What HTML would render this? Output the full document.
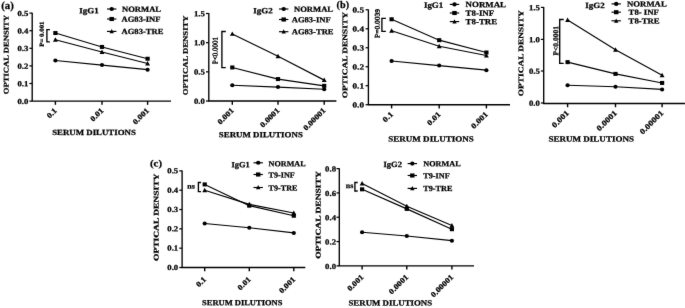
<!DOCTYPE html>
<html><head><meta charset="utf-8"><title>Figure</title>
<style>
html,body{margin:0;padding:0;background:#fff;}
body{width:685px;height:308px;overflow:hidden;}
svg{display:block;}
svg text{font-family:"Liberation Serif", serif;font-weight:bold;fill:#000;stroke:#000;stroke-width:0.25;}
</style></head><body>
<svg width="685" height="308" viewBox="0 0 685 308">
<defs><filter id="bl" x="0" y="0" width="685" height="308" filterUnits="userSpaceOnUse"><feConvolveMatrix order="3" kernelMatrix="0.00490 0.06020 0.00490 0.06020 0.73960 0.06020 0.00490 0.06020 0.00490" divisor="1" edgeMode="none" preserveAlpha="false"/></filter></defs>
<rect width="685" height="308" fill="#fff"/>
<g filter="url(#bl)" fill="#000">
<g id="c1"><path d="M32.20 12.70V101.10H171.00" fill="none" stroke="#000" stroke-width="1.35"/>
<path d="M29.40 101.10H32.20" stroke="#000" stroke-width="1.25"/>
<text transform="translate(28.30 103.89) rotate(0.03) scale(1.120 1)" text-anchor="end" font-size="7.8">0.0</text>
<path d="M29.40 83.50H32.20" stroke="#000" stroke-width="1.25"/>
<text transform="translate(28.30 86.29) rotate(0.03) scale(1.120 1)" text-anchor="end" font-size="7.8">0.1</text>
<path d="M29.40 65.90H32.20" stroke="#000" stroke-width="1.25"/>
<text transform="translate(28.30 68.69) rotate(0.03) scale(1.120 1)" text-anchor="end" font-size="7.8">0.2</text>
<path d="M29.40 48.30H32.20" stroke="#000" stroke-width="1.25"/>
<text transform="translate(28.30 51.09) rotate(0.03) scale(1.120 1)" text-anchor="end" font-size="7.8">0.3</text>
<path d="M29.40 30.70H32.20" stroke="#000" stroke-width="1.25"/>
<text transform="translate(28.30 33.49) rotate(0.03) scale(1.120 1)" text-anchor="end" font-size="7.8">0.4</text>
<path d="M29.40 13.10H32.20" stroke="#000" stroke-width="1.25"/>
<text transform="translate(28.30 15.89) rotate(0.03) scale(1.120 1)" text-anchor="end" font-size="7.8">0.5</text>
<path d="M55.40 101.10V104.80" stroke="#000" stroke-width="1.4"/>
<text transform="translate(57.40 111.10) rotate(-45) scale(1.120 1)" text-anchor="end" font-size="7.8">0.1</text>
<path d="M102.00 101.10V104.80" stroke="#000" stroke-width="1.4"/>
<text transform="translate(104.00 111.10) rotate(-45) scale(1.120 1)" text-anchor="end" font-size="7.8">0.01</text>
<path d="M147.60 101.10V104.80" stroke="#000" stroke-width="1.4"/>
<text transform="translate(149.60 111.10) rotate(-45) scale(1.120 1)" text-anchor="end" font-size="7.8">0.001</text>
<polyline points="55.40,60.50 102.00,65.07 147.60,69.65" fill="none" stroke="#000" stroke-width="1.15"/>
<ellipse cx="55.40" cy="60.50" rx="2.10" ry="2.00"/>
<ellipse cx="102.00" cy="65.07" rx="2.10" ry="2.00"/>
<ellipse cx="147.60" cy="69.65" rx="2.10" ry="2.00"/>
<polyline points="55.40,33.04 102.00,46.94 147.60,58.74" fill="none" stroke="#000" stroke-width="1.15"/>
<rect x="53.30" y="31.04" width="4.20" height="4.00"/>
<rect x="99.90" y="44.94" width="4.20" height="4.00"/>
<rect x="145.50" y="56.74" width="4.20" height="4.00"/>
<polyline points="55.40,39.73 102.00,52.05 147.60,63.49" fill="none" stroke="#000" stroke-width="1.15"/>
<path d="M55.40 37.23L57.81 41.68L52.98 41.68Z"/>
<path d="M102.00 49.55L104.42 54.00L99.58 54.00Z"/>
<path d="M147.60 60.99L150.01 65.44L145.19 65.44Z"/>
<text transform="translate(89.00 13.20) rotate(0.03) scale(1.120 1)" text-anchor="middle" font-size="8.0">IgG1</text>
<path d="M107.00 9.00H116.40" stroke="#000" stroke-width="1.15"/>
<ellipse cx="111.70" cy="9.00" rx="2.21" ry="2.05"/>
<text transform="translate(122.00 11.65) rotate(0.03) scale(1.100 1)" text-anchor="start" font-size="7.8">NORMAL</text>
<path d="M107.00 19.00H116.40" stroke="#000" stroke-width="1.15"/>
<rect x="109.49" y="16.95" width="4.43" height="4.10"/>
<text transform="translate(121.50 21.65) rotate(0.03) scale(1.100 1)" text-anchor="start" font-size="7.8">AG83-INF</text>
<path d="M107.00 31.40H116.40" stroke="#000" stroke-width="1.15"/>
<path d="M111.70 29.02L113.89 33.25L109.52 33.25Z"/>
<text transform="translate(121.50 34.05) rotate(0.03) scale(1.100 1)" text-anchor="start" font-size="7.8">AG83-TRE</text>
<text transform="translate(8.55 54.60) rotate(-89.97) scale(1.000 1)" text-anchor="middle" font-size="7.1" textLength="79.2" lengthAdjust="spacingAndGlyphs">OPTICAL DENSITY</text>
<text transform="translate(94.00 135.09) rotate(0.03) scale(1.120 1)" text-anchor="middle" font-size="7.9">SERUM DILUTIONS</text>
<path d="M49.90 29.60H46.90V41.90H49.90" fill="none" stroke="#000" stroke-width="1.35"/>
<text transform="translate(43.75 34.10) rotate(-89.97) scale(1.000 1)" text-anchor="middle" font-size="6.2" textLength="25.3" lengthAdjust="spacingAndGlyphs">P= 0.001</text>
<text transform="translate(1.20 8.90) rotate(0.03) scale(1.000 1)" text-anchor="start" font-size="10.8">(a)</text></g>
<g id="c2"><path d="M208.80 13.10V101.00H336.40" fill="none" stroke="#000" stroke-width="1.35"/>
<path d="M206.00 101.00H208.80" stroke="#000" stroke-width="1.25"/>
<text transform="translate(204.90 103.69) rotate(0.03) scale(1.120 1)" text-anchor="end" font-size="7.8">0.0</text>
<path d="M206.00 71.83H208.80" stroke="#000" stroke-width="1.25"/>
<text transform="translate(204.90 74.52) rotate(0.03) scale(1.120 1)" text-anchor="end" font-size="7.8">0.5</text>
<path d="M206.00 42.67H208.80" stroke="#000" stroke-width="1.25"/>
<text transform="translate(204.90 45.36) rotate(0.03) scale(1.120 1)" text-anchor="end" font-size="7.8">1.0</text>
<path d="M206.00 13.50H208.80" stroke="#000" stroke-width="1.25"/>
<text transform="translate(204.90 16.19) rotate(0.03) scale(1.120 1)" text-anchor="end" font-size="7.8">1.5</text>
<path d="M232.30 101.00V104.70" stroke="#000" stroke-width="1.4"/>
<text transform="translate(234.30 111.00) rotate(-45) scale(1.120 1)" text-anchor="end" font-size="7.8">0.001</text>
<path d="M278.00 101.00V104.70" stroke="#000" stroke-width="1.4"/>
<text transform="translate(280.00 111.00) rotate(-45) scale(1.120 1)" text-anchor="end" font-size="7.8">0.0001</text>
<path d="M324.20 101.00V104.70" stroke="#000" stroke-width="1.4"/>
<text transform="translate(326.20 111.00) rotate(-45) scale(1.120 1)" text-anchor="end" font-size="7.8">0.00001</text>
<polyline points="232.30,85.25 278.00,87.12 324.20,89.28" fill="none" stroke="#000" stroke-width="1.15"/>
<ellipse cx="232.30" cy="85.25" rx="2.10" ry="2.00"/>
<ellipse cx="278.00" cy="87.12" rx="2.10" ry="2.00"/>
<ellipse cx="324.20" cy="89.28" rx="2.10" ry="2.00"/>
<polyline points="232.30,67.46 278.00,79.07 324.20,85.83" fill="none" stroke="#000" stroke-width="1.15"/>
<rect x="230.20" y="65.46" width="4.20" height="4.00"/>
<rect x="275.90" y="77.07" width="4.20" height="4.00"/>
<rect x="322.10" y="83.83" width="4.20" height="4.00"/>
<polyline points="232.30,33.92 278.00,56.32 324.20,80.12" fill="none" stroke="#000" stroke-width="1.15"/>
<path d="M232.30 31.42L234.72 35.87L229.89 35.87Z"/>
<path d="M278.00 53.82L280.42 58.27L275.58 58.27Z"/>
<path d="M324.20 77.62L326.62 82.07L321.78 82.07Z"/>
<text transform="translate(263.00 13.20) rotate(0.03) scale(1.120 1)" text-anchor="middle" font-size="8.0">IgG2</text>
<path d="M279.00 9.00H288.40" stroke="#000" stroke-width="1.15"/>
<ellipse cx="283.70" cy="9.00" rx="2.21" ry="2.05"/>
<text transform="translate(294.00 11.65) rotate(0.03) scale(1.100 1)" text-anchor="start" font-size="7.8">NORMAL</text>
<path d="M279.00 19.50H288.40" stroke="#000" stroke-width="1.15"/>
<rect x="281.49" y="17.45" width="4.43" height="4.10"/>
<text transform="translate(291.70 22.15) rotate(0.03) scale(1.100 1)" text-anchor="start" font-size="7.8">AG83-INF</text>
<path d="M279.00 31.70H288.40" stroke="#000" stroke-width="1.15"/>
<path d="M283.70 29.32L285.88 33.55L281.51 33.55Z"/>
<text transform="translate(291.70 34.35) rotate(0.03) scale(1.100 1)" text-anchor="start" font-size="7.8">AG83-TRE</text>
<text transform="translate(187.75 55.35) rotate(-89.97) scale(1.000 1)" text-anchor="middle" font-size="7.1" textLength="79.9" lengthAdjust="spacingAndGlyphs">OPTICAL DENSITY</text>
<text transform="translate(260.80 137.19) rotate(0.03) scale(1.125 1)" text-anchor="middle" font-size="7.9">SERUM DILUTIONS</text>
<path d="M225.80 31.50H221.90V67.60H225.80" fill="none" stroke="#000" stroke-width="1.35"/>
<text transform="translate(217.55 50.50) rotate(-89.97) scale(1.000 1)" text-anchor="middle" font-size="7.4" textLength="26.8" lengthAdjust="spacingAndGlyphs" style="font-weight:normal;stroke-width:0.4">P&lt;0.0001</text></g>
<g id="c3"><path d="M368.40 9.40V104.70H510.00" fill="none" stroke="#000" stroke-width="1.35"/>
<path d="M365.60 104.70H368.40" stroke="#000" stroke-width="1.25"/>
<text transform="translate(364.00 107.39) rotate(0.03) scale(1.180 1)" text-anchor="end" font-size="7.8">0.0</text>
<path d="M365.60 85.72H368.40" stroke="#000" stroke-width="1.25"/>
<text transform="translate(364.00 88.41) rotate(0.03) scale(1.180 1)" text-anchor="end" font-size="7.8">0.1</text>
<path d="M365.60 66.74H368.40" stroke="#000" stroke-width="1.25"/>
<text transform="translate(364.00 69.43) rotate(0.03) scale(1.180 1)" text-anchor="end" font-size="7.8">0.2</text>
<path d="M365.60 47.76H368.40" stroke="#000" stroke-width="1.25"/>
<text transform="translate(364.00 50.45) rotate(0.03) scale(1.180 1)" text-anchor="end" font-size="7.8">0.3</text>
<path d="M365.60 28.78H368.40" stroke="#000" stroke-width="1.25"/>
<text transform="translate(364.00 31.47) rotate(0.03) scale(1.180 1)" text-anchor="end" font-size="7.8">0.4</text>
<path d="M365.60 9.80H368.40" stroke="#000" stroke-width="1.25"/>
<text transform="translate(364.00 12.49) rotate(0.03) scale(1.180 1)" text-anchor="end" font-size="7.8">0.5</text>
<path d="M391.60 104.70V108.40" stroke="#000" stroke-width="1.4"/>
<text transform="translate(393.60 114.70) rotate(-45) scale(1.170 1)" text-anchor="end" font-size="7.8">0.1</text>
<path d="M439.20 104.70V108.40" stroke="#000" stroke-width="1.4"/>
<text transform="translate(441.20 114.70) rotate(-45) scale(1.170 1)" text-anchor="end" font-size="7.8">0.01</text>
<path d="M486.40 104.70V108.40" stroke="#000" stroke-width="1.4"/>
<text transform="translate(488.40 114.70) rotate(-45) scale(1.170 1)" text-anchor="end" font-size="7.8">0.001</text>
<polyline points="391.60,61.05 439.20,65.60 486.40,70.16" fill="none" stroke="#000" stroke-width="1.15"/>
<ellipse cx="391.60" cy="61.05" rx="2.10" ry="2.00"/>
<ellipse cx="439.20" cy="65.60" rx="2.10" ry="2.00"/>
<ellipse cx="486.40" cy="70.16" rx="2.10" ry="2.00"/>
<polyline points="391.60,19.29 439.20,40.17 486.40,52.50" fill="none" stroke="#000" stroke-width="1.15"/>
<rect x="389.50" y="17.29" width="4.20" height="4.00"/>
<rect x="437.10" y="38.17" width="4.20" height="4.00"/>
<rect x="484.30" y="50.50" width="4.20" height="4.00"/>
<polyline points="391.60,30.68 439.20,46.24 486.40,55.54" fill="none" stroke="#000" stroke-width="1.15"/>
<path d="M391.60 28.18L394.02 32.63L389.19 32.63Z"/>
<path d="M439.20 43.74L441.62 48.19L436.78 48.19Z"/>
<path d="M486.40 53.04L488.81 57.49L483.98 57.49Z"/>
<text transform="translate(433.60 7.80) rotate(0.03) scale(1.120 1)" text-anchor="middle" font-size="8.0">IgG1</text>
<path d="M449.80 4.40H459.20" stroke="#000" stroke-width="1.15"/>
<ellipse cx="454.50" cy="4.40" rx="2.21" ry="2.05"/>
<text transform="translate(465.60 7.12) rotate(0.03) scale(1.110 1)" text-anchor="start" font-size="8.0">NORMAL</text>
<path d="M449.80 13.00H459.20" stroke="#000" stroke-width="1.15"/>
<rect x="452.29" y="10.95" width="4.43" height="4.10"/>
<text transform="translate(465.60 15.72) rotate(0.03) scale(1.110 1)" text-anchor="start" font-size="8.0">T8-INF</text>
<path d="M449.80 21.60H459.20" stroke="#000" stroke-width="1.15"/>
<path d="M454.50 19.23L456.69 23.45L452.31 23.45Z"/>
<text transform="translate(465.60 24.32) rotate(0.03) scale(1.110 1)" text-anchor="start" font-size="8.0">T8-TRE</text>
<text transform="translate(347.35 55.10) rotate(-89.97) scale(1.000 1)" text-anchor="middle" font-size="7.1" textLength="86.2" lengthAdjust="spacingAndGlyphs">OPTICAL DENSITY</text>
<text transform="translate(431.00 141.49) rotate(0.03) scale(1.140 1)" text-anchor="middle" font-size="7.9">SERUM DILUTIONS</text>
<path d="M385.90 18.30H381.90V31.30H385.90" fill="none" stroke="#000" stroke-width="1.35"/>
<text transform="translate(379.62 23.40) rotate(-89.97) scale(1.000 1)" text-anchor="middle" font-size="7.0" textLength="29" lengthAdjust="spacingAndGlyphs" style="font-weight:normal;stroke-width:0.4">P=0.0039</text>
<text transform="translate(336.60 8.10) rotate(0.03) scale(1.000 1)" text-anchor="start" font-size="10.2">(b)</text></g>
<g id="c4"><path d="M543.70 7.00V103.50H685.00" fill="none" stroke="#000" stroke-width="1.35"/>
<path d="M540.90 103.00H543.70" stroke="#000" stroke-width="1.25"/>
<text transform="translate(539.80 105.79) rotate(0.03) scale(1.120 1)" text-anchor="end" font-size="7.8">0.0</text>
<path d="M540.90 71.00H543.70" stroke="#000" stroke-width="1.25"/>
<text transform="translate(539.80 73.79) rotate(0.03) scale(1.120 1)" text-anchor="end" font-size="7.8">0.5</text>
<path d="M540.90 39.40H543.70" stroke="#000" stroke-width="1.25"/>
<text transform="translate(539.80 42.19) rotate(0.03) scale(1.120 1)" text-anchor="end" font-size="7.8">1.0</text>
<path d="M540.90 7.40H543.70" stroke="#000" stroke-width="1.25"/>
<text transform="translate(539.80 10.19) rotate(0.03) scale(1.120 1)" text-anchor="end" font-size="7.8">1.5</text>
<path d="M567.60 103.50V107.20" stroke="#000" stroke-width="1.4"/>
<text transform="translate(569.60 113.50) rotate(-45) scale(1.190 1)" text-anchor="end" font-size="7.8">0.001</text>
<path d="M615.50 103.50V107.20" stroke="#000" stroke-width="1.4"/>
<text transform="translate(617.50 113.50) rotate(-45) scale(1.190 1)" text-anchor="end" font-size="7.8">0.0001</text>
<path d="M662.10 103.50V107.20" stroke="#000" stroke-width="1.4"/>
<text transform="translate(664.10 113.50) rotate(-45) scale(1.190 1)" text-anchor="end" font-size="7.8">0.00001</text>
<polyline points="567.60,85.28 615.50,86.80 662.10,89.40" fill="none" stroke="#000" stroke-width="1.15"/>
<ellipse cx="567.60" cy="85.28" rx="2.10" ry="2.00"/>
<ellipse cx="615.50" cy="86.80" rx="2.10" ry="2.00"/>
<ellipse cx="662.10" cy="89.40" rx="2.10" ry="2.00"/>
<polyline points="567.60,62.14 615.50,73.87 662.10,82.94" fill="none" stroke="#000" stroke-width="1.15"/>
<rect x="565.50" y="60.14" width="4.20" height="4.00"/>
<rect x="613.40" y="71.87" width="4.20" height="4.00"/>
<rect x="660.00" y="80.94" width="4.20" height="4.00"/>
<polyline points="567.60,19.98 615.50,49.78 662.10,75.26" fill="none" stroke="#000" stroke-width="1.15"/>
<path d="M567.60 17.48L570.01 21.93L565.19 21.93Z"/>
<path d="M615.50 47.28L617.91 51.73L613.09 51.73Z"/>
<path d="M662.10 72.76L664.51 77.21L659.69 77.21Z"/>
<text transform="translate(595.00 7.90) rotate(0.03) scale(1.120 1)" text-anchor="middle" font-size="8.0">IgG2</text>
<path d="M611.50 3.90H620.90" stroke="#000" stroke-width="1.15"/>
<ellipse cx="616.20" cy="3.90" rx="2.21" ry="2.05"/>
<text transform="translate(627.00 6.55) rotate(0.03) scale(1.120 1)" text-anchor="start" font-size="7.8">NORMAL</text>
<path d="M611.50 12.20H620.90" stroke="#000" stroke-width="1.15"/>
<rect x="613.99" y="10.15" width="4.43" height="4.10"/>
<text transform="translate(628.60 14.85) rotate(0.03) scale(1.120 1)" text-anchor="start" font-size="7.8">T8- INF</text>
<path d="M611.50 20.80H620.90" stroke="#000" stroke-width="1.15"/>
<path d="M616.20 18.43L618.38 22.65L614.02 22.65Z"/>
<text transform="translate(628.60 23.45) rotate(0.03) scale(1.120 1)" text-anchor="start" font-size="7.8">T8-TRE</text>
<text transform="translate(523.35 53.25) rotate(-89.97) scale(1.000 1)" text-anchor="middle" font-size="7.1" textLength="85.9" lengthAdjust="spacingAndGlyphs">OPTICAL DENSITY</text>
<text transform="translate(591.20 141.49) rotate(0.03) scale(1.145 1)" text-anchor="middle" font-size="7.9">SERUM DILUTIONS</text>
<path d="M563.70 19.50H559.70V63.30H563.70" fill="none" stroke="#000" stroke-width="1.35"/>
<text transform="translate(558.18 40.80) rotate(-89.97) scale(1.000 1)" text-anchor="middle" font-size="7.5" textLength="29.4" lengthAdjust="spacingAndGlyphs">P&lt;0.0001</text></g>
<g id="c5"><path d="M182.10 170.50V267.50H305.30" fill="none" stroke="#000" stroke-width="1.35"/>
<path d="M179.30 267.50H182.10" stroke="#000" stroke-width="1.25"/>
<text transform="translate(178.20 269.94) rotate(0.03) scale(1.120 1)" text-anchor="end" font-size="7.8">0.0</text>
<path d="M179.30 248.18H182.10" stroke="#000" stroke-width="1.25"/>
<text transform="translate(178.20 250.62) rotate(0.03) scale(1.120 1)" text-anchor="end" font-size="7.8">0.1</text>
<path d="M179.30 228.86H182.10" stroke="#000" stroke-width="1.25"/>
<text transform="translate(178.20 231.30) rotate(0.03) scale(1.120 1)" text-anchor="end" font-size="7.8">0.2</text>
<path d="M179.30 209.54H182.10" stroke="#000" stroke-width="1.25"/>
<text transform="translate(178.20 211.98) rotate(0.03) scale(1.120 1)" text-anchor="end" font-size="7.8">0.3</text>
<path d="M179.30 190.22H182.10" stroke="#000" stroke-width="1.25"/>
<text transform="translate(178.20 192.66) rotate(0.03) scale(1.120 1)" text-anchor="end" font-size="7.8">0.4</text>
<path d="M179.30 170.90H182.10" stroke="#000" stroke-width="1.25"/>
<text transform="translate(178.20 173.34) rotate(0.03) scale(1.120 1)" text-anchor="end" font-size="7.8">0.5</text>
<path d="M204.70 267.50V271.20" stroke="#000" stroke-width="1.4"/>
<text transform="translate(206.70 279.90) rotate(-45) scale(1.120 1)" text-anchor="end" font-size="7.8">0.1</text>
<path d="M249.30 267.50V271.20" stroke="#000" stroke-width="1.4"/>
<text transform="translate(251.30 279.90) rotate(-45) scale(1.120 1)" text-anchor="end" font-size="7.8">0.01</text>
<path d="M293.80 267.50V271.20" stroke="#000" stroke-width="1.4"/>
<text transform="translate(295.80 279.90) rotate(-45) scale(1.120 1)" text-anchor="end" font-size="7.8">0.001</text>
<polyline points="204.70,223.45 249.30,227.70 293.80,232.92" fill="none" stroke="#000" stroke-width="1.15"/>
<ellipse cx="204.70" cy="223.45" rx="2.10" ry="2.00"/>
<ellipse cx="249.30" cy="227.70" rx="2.10" ry="2.00"/>
<ellipse cx="293.80" cy="232.92" rx="2.10" ry="2.00"/>
<polyline points="204.70,184.42 249.30,205.68 293.80,215.72" fill="none" stroke="#000" stroke-width="1.15"/>
<rect x="202.60" y="182.42" width="4.20" height="4.00"/>
<rect x="247.20" y="203.68" width="4.20" height="4.00"/>
<rect x="291.70" y="213.72" width="4.20" height="4.00"/>
<polyline points="204.70,190.22 249.30,204.32 293.80,213.02" fill="none" stroke="#000" stroke-width="1.15"/>
<path d="M204.70 187.72L207.11 192.17L202.28 192.17Z"/>
<path d="M249.30 201.82L251.72 206.27L246.89 206.27Z"/>
<path d="M293.80 210.52L296.22 214.97L291.38 214.97Z"/>
<text transform="translate(240.70 167.30) rotate(0.03) scale(1.050 1)" text-anchor="middle" font-size="8.0">IgG1</text>
<path d="M253.50 162.80H262.90" stroke="#000" stroke-width="1.15"/>
<ellipse cx="258.20" cy="162.80" rx="2.21" ry="2.05"/>
<text transform="translate(268.60 166.25) rotate(0.03) scale(1.043 1)" text-anchor="start" font-size="7.8">NORMAL</text>
<path d="M253.50 174.50H262.90" stroke="#000" stroke-width="1.15"/>
<rect x="255.99" y="172.45" width="4.43" height="4.10"/>
<text transform="translate(268.60 177.45) rotate(0.03) scale(1.043 1)" text-anchor="start" font-size="7.8">T9-INF</text>
<path d="M253.50 187.50H262.90" stroke="#000" stroke-width="1.15"/>
<path d="M258.20 185.12L260.38 189.35L256.01 189.35Z"/>
<text transform="translate(268.60 190.55) rotate(0.03) scale(1.043 1)" text-anchor="start" font-size="7.8">T9-TRE</text>
<text transform="translate(158.45 217.30) rotate(-89.97) scale(1.000 1)" text-anchor="middle" font-size="7.1" textLength="87.4" lengthAdjust="spacingAndGlyphs">OPTICAL DENSITY</text>
<text transform="translate(242.20 305.19) rotate(0.03) scale(1.075 1)" text-anchor="middle" font-size="7.9">SERUM DILUTIONS</text>
<path d="M201.00 182.50H198.40V191.60H201.00" fill="none" stroke="#000" stroke-width="1.35"/>
<text transform="translate(191.00 188.60) rotate(0.03) scale(1.100 1)" text-anchor="middle" font-size="7.2">ns</text>
<text transform="translate(150.00 166.60) rotate(0.03) scale(1.130 1)" text-anchor="start" font-size="9.6">(c)</text></g>
<g id="c6"><path d="M339.30 168.20V265.90H474.00" fill="none" stroke="#000" stroke-width="1.35"/>
<path d="M336.50 265.90H339.30" stroke="#000" stroke-width="1.25"/>
<text transform="translate(336.00 268.89) rotate(0.03) scale(1.120 1)" text-anchor="end" font-size="7.8">0.0</text>
<path d="M336.50 241.57H339.30" stroke="#000" stroke-width="1.25"/>
<text transform="translate(336.00 244.57) rotate(0.03) scale(1.120 1)" text-anchor="end" font-size="7.8">0.2</text>
<path d="M336.50 217.25H339.30" stroke="#000" stroke-width="1.25"/>
<text transform="translate(336.00 220.24) rotate(0.03) scale(1.120 1)" text-anchor="end" font-size="7.8">0.4</text>
<path d="M336.50 192.93H339.30" stroke="#000" stroke-width="1.25"/>
<text transform="translate(336.00 195.92) rotate(0.03) scale(1.120 1)" text-anchor="end" font-size="7.8">0.6</text>
<path d="M336.50 168.60H339.30" stroke="#000" stroke-width="1.25"/>
<text transform="translate(336.00 171.59) rotate(0.03) scale(1.120 1)" text-anchor="end" font-size="7.8">0.8</text>
<path d="M362.10 265.90V269.60" stroke="#000" stroke-width="1.4"/>
<text transform="translate(364.10 277.70) rotate(-45) scale(1.120 1)" text-anchor="end" font-size="7.8">0.001</text>
<path d="M406.80 265.90V269.60" stroke="#000" stroke-width="1.4"/>
<text transform="translate(408.80 277.70) rotate(-45) scale(1.120 1)" text-anchor="end" font-size="7.8">0.0001</text>
<path d="M451.90 265.90V269.60" stroke="#000" stroke-width="1.4"/>
<text transform="translate(453.90 277.70) rotate(-45) scale(1.120 1)" text-anchor="end" font-size="7.8">0.00001</text>
<polyline points="362.10,232.25 406.80,236.02 451.90,240.65" fill="none" stroke="#000" stroke-width="1.15"/>
<ellipse cx="362.10" cy="232.25" rx="2.10" ry="2.00"/>
<ellipse cx="406.80" cy="236.02" rx="2.10" ry="2.00"/>
<ellipse cx="451.90" cy="240.65" rx="2.10" ry="2.00"/>
<polyline points="362.10,189.32 406.80,208.90 451.90,229.21" fill="none" stroke="#000" stroke-width="1.15"/>
<rect x="360.00" y="187.32" width="4.20" height="4.00"/>
<rect x="404.70" y="206.90" width="4.20" height="4.00"/>
<rect x="449.80" y="227.21" width="4.20" height="4.00"/>
<polyline points="362.10,183.60 406.80,206.35 451.90,225.56" fill="none" stroke="#000" stroke-width="1.15"/>
<path d="M362.10 181.10L364.52 185.55L359.69 185.55Z"/>
<path d="M406.80 203.85L409.22 208.30L404.38 208.30Z"/>
<path d="M451.90 223.06L454.31 227.51L449.48 227.51Z"/>
<text transform="translate(392.70 166.90) rotate(0.03) scale(1.070 1)" text-anchor="middle" font-size="8.0">IgG2</text>
<path d="M407.60 163.60H417.00" stroke="#000" stroke-width="1.15"/>
<ellipse cx="412.30" cy="163.60" rx="2.21" ry="2.05"/>
<text transform="translate(423.20 166.25) rotate(0.03) scale(1.057 1)" text-anchor="start" font-size="7.8">NORMAL</text>
<path d="M407.60 175.50H417.00" stroke="#000" stroke-width="1.15"/>
<rect x="410.09" y="173.45" width="4.43" height="4.10"/>
<text transform="translate(423.20 178.15) rotate(0.03) scale(1.057 1)" text-anchor="start" font-size="7.8">T9-INF</text>
<path d="M407.60 188.40H417.00" stroke="#000" stroke-width="1.15"/>
<path d="M412.30 186.03L414.49 190.25L410.12 190.25Z"/>
<text transform="translate(423.20 191.05) rotate(0.03) scale(1.057 1)" text-anchor="start" font-size="7.8">T9-TRE</text>
<text transform="translate(320.45 215.00) rotate(-89.97) scale(1.000 1)" text-anchor="middle" font-size="7.1" textLength="87.6" lengthAdjust="spacingAndGlyphs">OPTICAL DENSITY</text>
<text transform="translate(390.30 305.59) rotate(0.03) scale(1.120 1)" text-anchor="middle" font-size="7.9">SERUM DILUTIONS</text>
<path d="M357.70 182.50H354.90V191.00H357.70" fill="none" stroke="#000" stroke-width="1.35"/>
<text transform="translate(349.50 188.00) rotate(0.03) scale(1.100 1)" text-anchor="middle" font-size="7.2">ns</text></g>
</g>
</svg>
</body></html>
